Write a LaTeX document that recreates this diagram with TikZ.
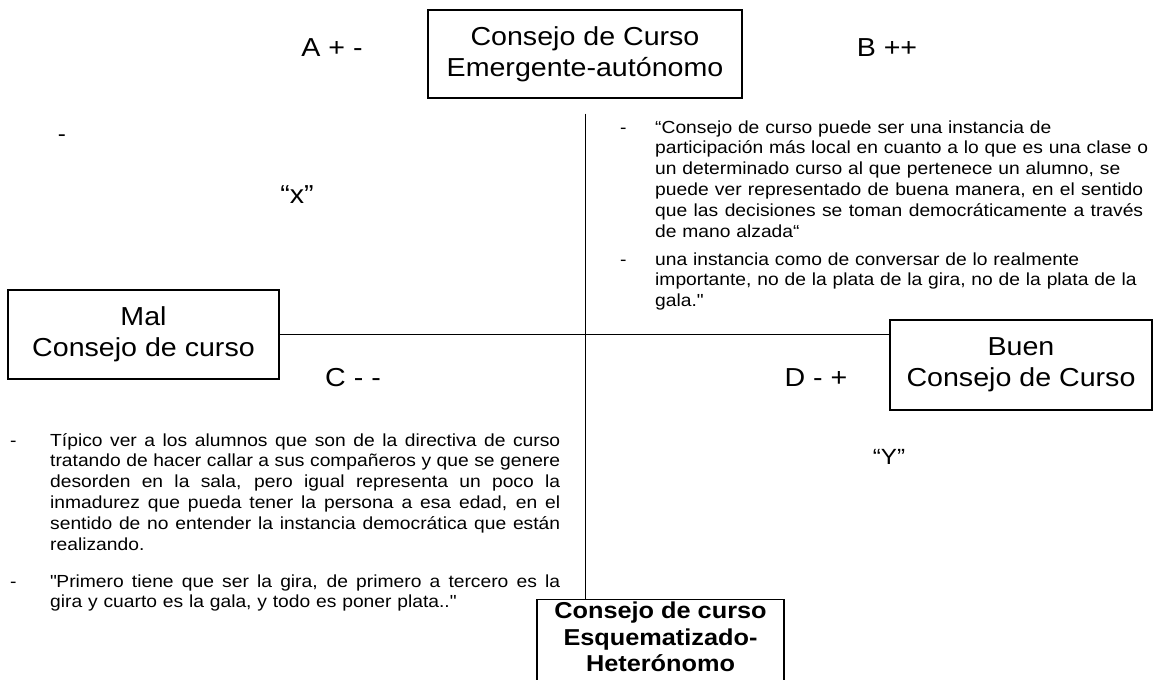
\documentclass[tikz,border=0pt]{standalone}
\usepackage{fontspec}
\setmainfont[FakeStretch=1.1]{Liberation Sans}
\usetikzlibrary{positioning}
\newcommand{\jl}[2][510pt]{\leavevmode\hbox to #1{\spaceskip=0.3em plus 1fil\relax #2}\\}

\begin{document}
\begin{tikzpicture} [
    x = 1pt, y = -1pt,
    inner sep = 0,
    caja/.style = { draw, line width = 1.1pt, align = center, font = \fontsize{26}{31}\selectfont },
    eje/.style = { line width = 1pt },
    etiq/.style = { font = \fontsize{26}{31}\selectfont },
    parrafo/.style = { font = \fontsize{17.5}{20.8}\selectfont, align = left, anchor = base west },
    guion/.style = { font = \fontsize{17.5}{20.8}\selectfont, anchor = base west }
    ]

    \useasboundingbox (0,0) rectangle (1160,680);
    \clip (0,0) rectangle (1160,680);

    % cajas de los extremos
    \node [caja, minimum width = 314pt, minimum height = 88pt] (arriba) at (585,54) {Consejo de Curso\\Emergente-autónomo};
    \node [caja, minimum width = 271pt, minimum height = 89pt] (mal) at (143.5,334.5) {Mal\\Consejo de curso};
    \node [caja, minimum width = 262pt, minimum height = 90pt] (buen) at (1021,365) {Buen\\Consejo de Curso};
    \node [caja, minimum width = 247pt, text depth = 30pt, anchor = north, inner ysep = 2.5pt, font = \fontsize{23}{26.5}\selectfont\bfseries] (abajo) at (660.5,599) {Consejo de curso\\Esquematizado-\\Heterónomo};

    % ejes
    \coordinate [below = 15pt of arriba] (ejearriba);
    \draw [eje] (ejearriba) -- (ejearriba |- abajo.north);
    \draw [eje] (mal.east) -- (mal.east -| buen.west);

    % cuadrantes
    \node [etiq] (a) at (332,48) {A + -};
    \node [etiq] (b) at (887,48) {B ++};
    \node [etiq] (c) at (353,378) {C - -};
    \node [etiq] (d) at (816,378) {D - +};
    \node [font = \fontsize{22}{26}\selectfont] (g0) at (62,138) {-};
    \node [etiq] (x) at (297,195) {“x”};
    \node [font = \fontsize{22}{26}\selectfont] (y) at (889,457) {“Y”};

    % citas B
    \node [guion] (gb1) at (620,133) {-};
    \node [parrafo, text width = 493pt] (pb1) at (655,133) {“Consejo de curso puede ser una instancia de\\
        \jl[493pt]{participación más local en cuanto a lo que es una clase o}
        un determinado curso al que pertenece un alumno, se\\
        \jl[488pt]{puede ver representado de buena manera, en el sentido}
        \jl[488pt]{que las decisiones se toman democráticamente a través}
        de mano alzada“};
    \node [guion] (gb2) at (620,265) {-};
    \node [parrafo, text width = 493pt] (pb2) at (655,265) {una instancia como de conversar de lo realmente\\
        importante, no de la plata de la gira, no de la plata de la\\
        gala.\textquotedbl};

    % citas C
    \node [guion] (gc1) at (10,446) {-};
    \node [parrafo, text width = 510pt] (pc1) at (50,446) {\jl{Típico ver a los alumnos que son de la directiva de curso}
        \jl{tratando de hacer callar a sus compañeros y que se genere}
        \jl{desorden en la sala, pero igual representa un poco la}
        \jl{inmadurez que pueda tener la persona a esa edad, en el}
        \jl{sentido de no entender la instancia democrática que están}
        realizando.};
    \node [guion] (gc2) at (10,587) {-};
    \node [parrafo, text width = 510pt] (pc2) at (50,587) {\jl{\textquotedbl Primero tiene que ser la gira, de primero a tercero es la}
        gira y cuarto es la gala, y todo es poner plata..\textquotedbl};

\end{tikzpicture}
\end{document}
